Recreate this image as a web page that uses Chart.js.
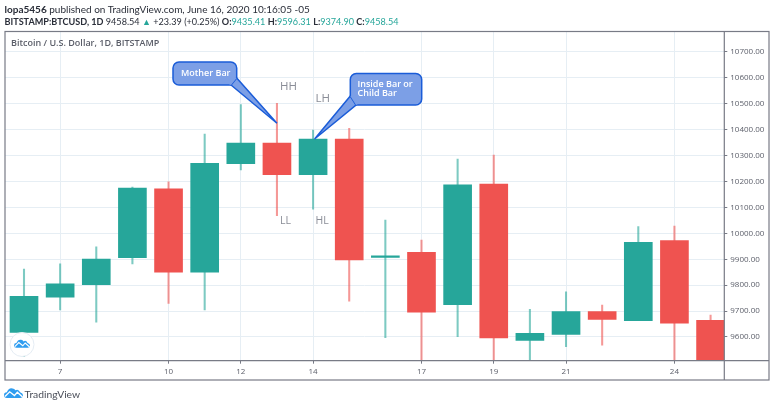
<!DOCTYPE html>
<html>
<head>
<meta charset="utf-8">
<title>BTCUSD</title>
<script src="https://cdn.jsdelivr.net/npm/chart.js@4"></script>
<style>
  html, body { margin: 0; padding: 0; background: #fff; overflow: hidden; }
  #wrap { position: relative; width: 774px; height: 407px; font-family: Lato, sans-serif; }
  canvas { position: absolute; left: 0; top: 0; }
  .line { position: absolute; left: 4.5px; white-space: nowrap; color: #2a2e39; line-height: 14px; }
  #line1 { top: 2px; font-size: 10px; }
  #line2 { top: 14.5px; font-size: 9.1px; }
  .num { color: #26a69a; }
  #brand { position: absolute; left: 24.5px; top: 386px; font-size: 10.3px; line-height: 16px; color: #4a4e59; }
</style>
</head>
<body>
<div id="wrap">
  <canvas id="grafico" width="774" height="407"></canvas>
  <div class="line" id="line1"><b>lopa5456</b> published on TradingView.com, June 16, 2020 10:16:05 -05</div>
  <div class="line" id="line2"><b>BITSTAMP:BTCUSD, 1D</b> 9458.54 <span class="num">&#9650;</span> +23.39 (+0.25%) <b>O:</b><span class="num">9435.41</span> <b>H:</b><span class="num">9596.31</span> <b>L:</b><span class="num">9374.90</span> <b>C:</b><span class="num">9458.54</span></div>
  <div id="brand">TradingView</div>
</div>
<script>
// June 2020 daily candles
const days   = [6, 7, 8, 9, 10, 11, 12, 13, 14, 15, 16, 17, 18, 19, 20, 21, 22, 23, 24, 25];
const opens  = [9618, 9754, 9802, 9906, 10172, 9850, 10269, 10348, 10226, 10364, 9907, 9927, 9725, 10190, 9587, 9610, 9698, 9663, 9972, 9664];
const highs  = [9862, 9882, 9948, 10179, 10199, 10383, 10497, 10502, 10399, 10405, 10051, 9974, 10287, 10302, 9707, 9774, 9723, 10026, 10028, 9685];
const lows   = [9524, 9704, 9657, 9882, 9730, 9704, 10245, 10068, 10093, 9738, 9597, 9505, 9601, 9500, 9505, 9563, 9568, 9663, 9505, 9480];
const closes = [9757, 9805, 9901, 10175, 9850, 10270, 10348, 10226, 10364, 9897, 9913, 9696, 10187, 9596, 9614, 9698, 9668, 9965, 9653, 9500];

// Axis ticks
const dayTicks = [7, 10, 12, 14, 17, 19, 21, 24];
const priceTicks = [9600, 9700, 9800, 9900, 10000, 10100, 10200, 10300, 10400, 10500, 10600, 10700];

// Text on the chart
const chartTitle = 'Bitcoin / U.S. Dollar, 1D, BITSTAMP';

const UP = '#26a69a', DOWN = '#ef5350';
const UP_WICK = 'rgba(38,166,154,0.6)', DOWN_WICK = 'rgba(239,83,80,0.6)';
const GRID = '#e6eef4', FRAME = '#787b86', TICK_TEXT = '#5d606b';

const isUp = i => closes[i] >= opens[i];
const dayPos = d => days.indexOf(d);

function roundBox(ctx, x0, y0, x1, y1, r) {
    ctx.beginPath();
    ctx.roundRect(x0, y0, x1 - x0, y1 - y0, r);
}

// Speech bubble whose tail points at a candle
function callout(ctx, box, base1, base2, tip, lines) {
    ctx.fillStyle = '#7c9fe6';
    ctx.strokeStyle = '#1a5cd8';
    ctx.lineWidth = 1.5;
    roundBox(ctx, box[0], box[1], box[2], box[3], 6);
    ctx.fill();
    ctx.stroke();
    ctx.beginPath();
    ctx.moveTo(base1[0], base1[1]);
    ctx.lineTo(tip[0], tip[1]);
    ctx.lineTo(base2[0], base2[1]);
    ctx.closePath();
    ctx.fill();
    ctx.stroke();
    // hide the seam between tail and box
    ctx.beginPath();
    ctx.moveTo(base1[0], base1[1]);
    ctx.lineTo(base2[0], base2[1]);
    ctx.lineTo(box[0] + (box[2] - box[0]) / 2, box[1] + (box[3] - box[1]) / 2);
    ctx.closePath();
    ctx.fill();
    ctx.fillStyle = '#fff';
    ctx.font = '600 9px "Open Sans"';
    ctx.textAlign = 'left';
    ctx.textBaseline = 'middle';
    lines.forEach(t => ctx.fillText(t.text, t.x, t.y));
}

function logo(ctx, x, y, k) {
    ctx.save();
    ctx.translate(x, y);
    ctx.scale(k, k);
    ctx.fillStyle = '#2f9df0';
    ctx.beginPath();
    ctx.moveTo(0, 8);
    ctx.quadraticCurveTo(0, 5, 3, 5);
    ctx.quadraticCurveTo(5, 0, 9, 1);
    ctx.quadraticCurveTo(11, 1, 12, 3);
    ctx.quadraticCurveTo(15, 1, 17, 5);
    ctx.quadraticCurveTo(20, 6, 20, 8);
    ctx.quadraticCurveTo(20, 11, 17, 11);
    ctx.lineTo(3, 11);
    ctx.quadraticCurveTo(0, 11, 0, 8);
    ctx.fill();
    ctx.strokeStyle = '#fff';
    ctx.lineWidth = 1.4;
    ctx.beginPath();
    ctx.moveTo(1, 9.5);
    ctx.lineTo(6, 4.5);
    ctx.lineTo(11, 8.5);
    ctx.lineTo(14, 5);
    ctx.lineTo(19.5, 10);
    ctx.stroke();
    ctx.restore();
}

// Frame, labels, bubbles and logos on top of the candles
const extras = {
    id: 'extras',
    afterDraw(chart) {
        const ctx = chart.ctx;
        const { left, right, top, bottom } = chart.chartArea;
        const x = chart.scales.x, y = chart.scales.y;
        ctx.save();

        // price/time axis frame
        ctx.strokeStyle = FRAME;
        ctx.lineWidth = 1.2;
        ctx.strokeRect(left, top, 769 - left, 380 - top);
        ctx.beginPath();
        ctx.moveTo(right, top);
        ctx.lineTo(right, 380);
        ctx.moveTo(left, bottom);
        ctx.lineTo(769, bottom);
        ctx.stroke();

        ctx.fillStyle = '#5a5d68';
        ctx.font = '600 9px "Open Sans"';
        ctx.textAlign = 'left';
        ctx.textBaseline = 'middle';
        ctx.fillText(chartTitle, 11, 43.5);

        // H/L marks next to the two candles
        ctx.fillStyle = '#8a8d97';
        ctx.font = '11.5px "Open Sans"';
        ctx.fillText('HH', 280, 87);
        ctx.fillText('LH', 315.5, 98.5);
        ctx.font = '10.5px "Open Sans"';
        ctx.fillText('LL', 280, 221);
        ctx.fillText('HL', 315.5, 221);

        callout(ctx, [173, 62, 236.7, 85], [236.7, 78], [231, 85],
            [x.getPixelForValue(dayPos(13)), y.getPixelForValue(10425)],
            [{ text: 'Mother Bar', x: 181, y: 73 }]);
        callout(ctx, [350.3, 73.5, 421.7, 105], [350.3, 96], [356, 105],
            [x.getPixelForValue(dayPos(14)) + 1.5, y.getPixelForValue(10364)],
            [{ text: 'Inside Bar or', x: 357.5, y: 84 }, { text: 'Child Bar', x: 357.5, y: 93 }]);

        // round badge in the corner
        ctx.fillStyle = '#fff';
        ctx.strokeStyle = '#e4ecf3';
        ctx.lineWidth = 1;
        ctx.beginPath();
        ctx.arc(22, 344.5, 12, 0, Math.PI * 2);
        ctx.fill();
        ctx.stroke();
        logo(ctx, 14, 339, 0.8);
        logo(ctx, 4, 387.5, 0.95);
        ctx.restore();
    }
};

new Chart(document.getElementById('grafico').getContext('2d'), {
    type: 'bar',
    data: {
        datasets: [
            {
                // candle bodies
                data: days.map((d, i) => ({ x: i, y: [opens[i], closes[i]] })),
                backgroundColor: days.map((d, i) => isUp(i) ? UP : DOWN),
                barThickness: 28,
                grouped: false,
                order: 1
            },
            {
                // wicks
                data: days.map((d, i) => ({ x: i, y: [lows[i], highs[i]] })),
                backgroundColor: days.map((d, i) => isUp(i) ? UP_WICK : DOWN_WICK),
                barThickness: 1.4,
                grouped: false,
                order: 2
            }
        ]
    },
    options: {
        responsive: false,
        animation: false,
        layout: { padding: { left: 5, top: 31.5, right: 5, bottom: 27 } },
        plugins: { legend: { display: false }, tooltip: { enabled: false } },
        scales: {
            x: {
                type: 'linear',
                offset: false,
                min: -0.526,
                max: 19.38,
                afterBuildTicks: s => { s.ticks = dayTicks.map(d => ({ value: dayPos(d) })); },
                afterFit: s => { s.height = 19.3; },
                grid: { offset: false, color: GRID, tickColor: FRAME, tickLength: 3 },
                border: { display: false },
                ticks: {
                    autoSkip: false,
                    maxRotation: 0,
                    padding: 3,
                    color: TICK_TEXT,
                    font: { family: '"Open Sans"', size: 8 },
                    callback: v => days[v]
                }
            },
            y: {
                type: 'linear',
                position: 'right',
                min: 9508.5,
                max: 10779,
                afterBuildTicks: s => { s.ticks = priceTicks.map(v => ({ value: v })); },
                afterFit: s => { s.width = 44.7; },
                grid: { color: GRID, tickColor: FRAME, tickLength: 3 },
                border: { display: false },
                ticks: {
                    autoSkip: false,
                    padding: 3,
                    color: TICK_TEXT,
                    font: { family: '"Open Sans"', size: 8 },
                    callback: v => v.toFixed(2)
                }
            }
        }
    },
    plugins: [extras]
});
</script>
</body>
</html>
